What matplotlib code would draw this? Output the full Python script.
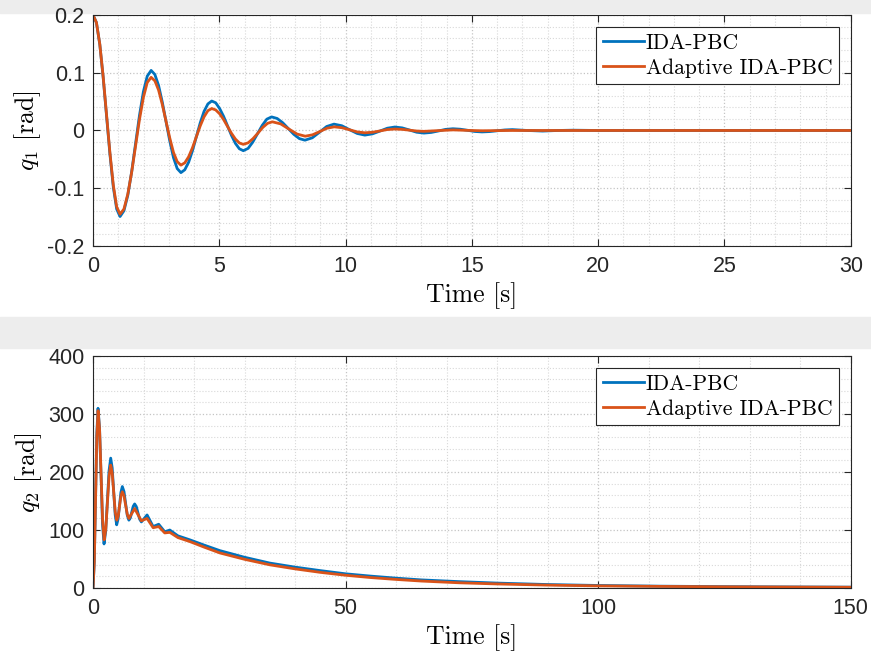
import matplotlib.pyplot as plt
import numpy as np
from matplotlib.ticker import MultipleLocator, FuncFormatter
from matplotlib.patches import Rectangle

plt.rcParams['mathtext.fontset'] = 'cm'

# q1 response (top)
t1_ida = [0, 0.134, 0.268, 0.401, 0.535, 0.669, 0.803, 0.936,
          1.07, 1.224, 1.378, 1.531, 1.685, 1.839, 1.993, 2.146,
          2.30, 2.448, 2.595, 2.743, 2.89, 3.038, 3.185, 3.333,
          3.48, 3.633, 3.785, 3.938, 4.09, 4.243, 4.395, 4.548,
          4.70, 4.856, 5.013, 5.169, 5.325, 5.481, 5.638, 5.794,
          5.95, 6.14, 6.32, 6.51, 6.70, 6.88,
          7.07, 7.29, 7.51, 7.73, 7.95, 8.17,
          8.39, 8.68, 8.97, 9.25,
          9.54, 9.85, 10.15, 10.46,
          10.76, 11.06, 11.36, 11.65,
          11.95, 12.24, 12.53, 12.81,
          13.10, 13.39, 13.68, 13.96,
          14.25, 14.54, 14.83, 15.11,
          15.40, 15.70, 16.00, 16.30,
          16.60, 17.20, 17.80, 18.40, 19.00, 20, 22, 24, 26, 28, 30]
q1_ida = [0.200, 0.187, 0.149, 0.092, 0.0255, -0.041, -0.098, -0.136,
          -0.149, -0.139, -0.112, -0.071, -0.0225, 0.026, 0.067, 0.094,
          0.104, 0.097, 0.078, 0.049, 0.0155, -0.018, -0.047, -0.066,
          -0.073, -0.068, -0.055, -0.035, -0.011, 0.013, 0.033, 0.046,
          0.051, 0.048, 0.038, 0.0245, 0.008, -0.0085, -0.0224, -0.0317,
          -0.035, -0.031, -0.0204, -0.0058, 0.0089, 0.0196,
          0.0235, 0.0208, 0.0134, 0.0034, -0.0067, -0.0141,
          -0.0168, -0.0127, -0.0029, 0.0069,
          0.011, 0.0082, 0.0015, -0.0052,
          -0.008, -0.0059, -0.001, 0.0039,
          0.006, 0.0045, 0.0008, -0.0030,
          -0.0045, -0.0034, -0.0008, 0.0019,
          0.003, 0.0022, 0.0003, -0.0017,
          -0.0025, -0.0019, -0.0005, 0.0009,
          0.0015, 0.0, -0.001, 0.0, 0.0005, 0, 0, 0, 0, 0, 0]

t1_ada = [0, 0.134, 0.268, 0.401, 0.535, 0.669, 0.803, 0.936,
          1.07, 1.224, 1.378, 1.531, 1.685, 1.839, 1.993, 2.146,
          2.30, 2.448, 2.595, 2.743, 2.89, 3.038, 3.185, 3.333,
          3.48, 3.633, 3.785, 3.938, 4.09, 4.243, 4.395, 4.548,
          4.70, 4.856, 5.013, 5.169, 5.325, 5.481, 5.638, 5.794,
          5.95, 6.14, 6.33, 6.53, 6.72, 6.91,
          7.10, 7.43, 7.75, 8.08,
          8.40, 8.69, 8.98, 9.26,
          9.55, 9.85, 10.16, 10.46,
          10.76, 11.06, 11.36, 11.65,
          11.95, 12.24, 12.53, 12.81,
          13.10, 13.68, 14.25, 14.80, 15.40, 16.50, 18, 20, 22, 24, 26, 28, 30]
q1_ada = [0.200, 0.187, 0.1495, 0.0935, 0.0275, -0.0385, -0.0945, -0.132,
          -0.145, -0.136, -0.110, -0.072, -0.0265, 0.019, 0.057, 0.083,
          0.092, 0.086, 0.070, 0.045, 0.016, -0.013, -0.038, -0.054,
          -0.060, -0.056, -0.0456, -0.0298, -0.011, 0.0078, 0.0236, 0.0343,
          0.038, 0.0356, 0.0289, 0.0189, 0.007, -0.0049, -0.0149, -0.0216,
          -0.024, -0.0214, -0.0143, -0.0045, 0.0053, 0.0124,
          0.015, 0.0114, 0.0026, -0.0062,
          -0.0099, -0.0075, -0.0018, 0.0039,
          0.0063, 0.0048, 0.0012, -0.0025,
          -0.004, -0.0031, -0.0008, 0.0016,
          0.0025, 0.0019, 0.0005, -0.0009,
          -0.0015, -0.0002, 0.001, 0.0002, -0.0005, 0, 0, 0, 0, 0, 0, 0, 0]

# q2 response (bottom)
t2_ida = [0, 0.25, 0.5, 0.74, 0.99, 1.29, 1.59, 1.88,
          2.18, 2.51, 2.84, 3.17, 3.5, 3.8, 4.09, 4.39,
          4.68, 4.96, 5.24, 5.52, 5.8, 6.13, 6.45, 6.78,
          7.1, 7.39, 7.67, 7.96, 8.24, 8.57, 8.9, 9.24,
          9.57, 10.14, 10.7, 11.3, 11.9, 12.45, 13.0, 13.6, 14.2, 14.7, 15.2,
          16.8, 19.2, 22, 25.1, 30, 35, 40, 45, 50, 55, 60, 65, 72.5, 80, 90,
          100, 112, 125, 137, 150]
q2_ida = [0, 45, 155, 265, 310, 276, 193, 110,
          76, 98, 150, 202, 224, 207, 166.5, 126,
          109, 119, 142, 165, 175, 166.5, 146, 125.5,
          117, 121, 131, 141, 145, 140.5, 129.5, 118.5,
          114, 120, 126, 116, 106, 108, 110, 103.5, 97, 98.5, 100,
          90, 83, 74, 64.5, 53, 43, 36, 30, 24.5, 20.5, 17, 14, 11, 8.5, 6,
          4.4, 3.2, 2.4, 1.9, 1.5]

t2_ada = [0, 0.25, 0.5, 0.75, 1.0, 1.3, 1.6, 1.9,
          2.2, 2.53, 2.85, 3.18, 3.5, 3.8, 4.1, 4.4,
          4.7, 4.98, 5.25, 5.53, 5.8, 6.13, 6.45, 6.78,
          7.1, 7.67, 8.24, 8.9, 9.57, 10.14, 10.7, 11.3, 11.9, 12.45,
          13.0, 13.6, 14.2, 14.7, 15.2,
          16.8, 19.2, 22, 25.1, 30, 35, 40, 45, 50, 55, 60, 65, 72.5, 80, 90,
          100, 112, 125, 137, 150]
q2_ada = [0, 45, 153, 261, 306, 273, 194.5, 116,
          83, 102, 147.5, 193, 212, 198, 164.5, 131,
          117, 124, 141.5, 159, 166, 159, 143, 127,
          120, 128.5, 137, 126.5, 116, 118, 120, 112, 104, 105,
          106, 100.5, 95, 95.5, 96,
          87, 80, 70.5, 60.5, 49.5, 40, 33, 27, 22, 18, 14.8, 12, 9, 7, 5,
          3.7, 2.8, 2.1, 1.7, 1.3]

labels = ['IDA-PBC', 'Adaptive IDA-PBC']
blue = '#0072BD'
orange = '#D95319'

fig = plt.figure(figsize=(8.71, 6.57), dpi=100)

# page background bands visible between the two images
for y0, h in [(0.980, 0.020), (0.470, 0.048)]:
    fig.patches.append(Rectangle((0, y0), 1, h, transform=fig.transFigure,
                                 color='#ededed', zorder=-10))

ax1 = fig.add_axes([0.1068, 0.6256, 0.870, 0.3516])
ax2 = fig.add_axes([0.1068, 0.105, 0.870, 0.353])

fmt = FuncFormatter(lambda v, p: ('%g' % v).replace('\u2212', '-'))

def style(ax, xmaj, xmin, ymaj, ymin):
    ax.xaxis.set_major_locator(MultipleLocator(xmaj))
    ax.xaxis.set_minor_locator(MultipleLocator(xmin))
    ax.yaxis.set_major_locator(MultipleLocator(ymaj))
    ax.yaxis.set_minor_locator(MultipleLocator(ymin))
    ax.xaxis.set_major_formatter(fmt)
    ax.yaxis.set_major_formatter(fmt)
    ax.grid(which='major', color='#c4c4c4', linestyle=':', linewidth=0.9)
    ax.grid(which='minor', color='#d8d8d8', linestyle=':', linewidth=0.8)
    ax.set_axisbelow(True)
    ax.tick_params(which='major', direction='in', length=5, width=0.8,
                   top=True, right=True, colors='#262626', labelsize=15.5, pad=6)
    ax.tick_params(axis='x', which='major', pad=7)
    ax.tick_params(which='minor', length=0)
    for lab in ax.get_xticklabels() + ax.get_yticklabels():
        lab.set_fontfamily('Liberation Sans')
    for s in ax.spines.values():
        s.set_color('#262626')
        s.set_linewidth(0.8)
    ax.set_xlabel('Time [s]', family='cmr10', fontsize=18.5, labelpad=4)

ax1.plot(t1_ida, q1_ida, color=blue, lw=2.0, label=labels[0])
ax1.plot(t1_ada, q1_ada, color=orange, lw=2.0, label=labels[1])
ax1.set_xlim(0, 30)
ax1.set_ylim(-0.2, 0.2)
style(ax1, 5, 1, 0.1, 0.02)
ax1.set_ylabel(r'$q_1$ [rad]', family='cmr10', fontsize=18.5, labelpad=3)

ax2.plot(t2_ida, q2_ida, color=blue, lw=2.0, label=labels[0])
ax2.plot(t2_ada, q2_ada, color=orange, lw=2.0, label=labels[1])
ax2.set_xlim(0, 150)
ax2.set_ylim(0, 400)
style(ax2, 50, 10, 100, 20)
ax2.set_ylabel(r'$q_2$ [rad]', family='cmr10', fontsize=18.5, labelpad=3)

for ax in (ax1, ax2):
    leg = ax.legend(loc='upper right', prop={'family': 'cmr10', 'size': 15.5},
                    fancybox=False, edgecolor='#262626', framealpha=1,
                    handlelength=1.9, handletextpad=0.1, borderpad=0.3,
                    labelspacing=0.25, borderaxespad=0.55)
    leg.get_frame().set_linewidth(0.8)

plt.savefig('out.png', dpi=100)
